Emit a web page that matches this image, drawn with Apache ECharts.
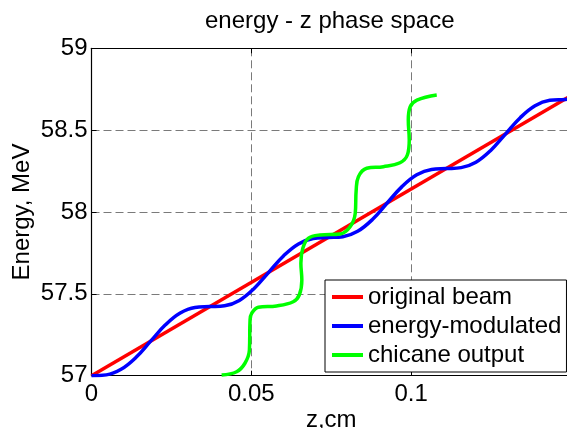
<!DOCTYPE html>
<html>
<head>
<meta charset="utf-8">
<script src="https://cdn.jsdelivr.net/npm/echarts@6/dist/echarts.min.js"></script>
<style>
html,body{margin:0;padding:0;background:#fff;}
#chart{width:567px;height:428px;}
</style>
</head>
<body>
<div id="chart"></div>
<script>
// ---- data ----
const redZ = [0, 0.149];
const redE = [57.0, 58.699];

const blueZ = [0, 0.004625, 0.00925, 0.013875, 0.0185, 0.023125, 0.02775, 0.032375, 0.037,
  0.041625, 0.04625, 0.050875, 0.0555, 0.060125, 0.06475, 0.069375, 0.074,
  0.078625, 0.08325, 0.087875, 0.0925, 0.097125, 0.10175, 0.106375, 0.111,
  0.115625, 0.12025, 0.124875, 0.1295, 0.134125, 0.13875, 0.143375, 0.148, 0.149];
const blueE = [57.000, 57.005, 57.039, 57.111, 57.211, 57.311, 57.383, 57.417, 57.422,
  57.427, 57.460, 57.533, 57.633, 57.733, 57.805, 57.838, 57.844,
  57.849, 57.882, 57.954, 58.055, 58.155, 58.227, 58.260, 58.265,
  58.271, 58.304, 58.376, 58.476, 58.576, 58.649, 58.682, 58.687, 58.690];

const greenZ = [0.0407, 0.0454, 0.0480, 0.0494, 0.0496, 0.0501, 0.0522, 0.0579, 0.0631,
  0.0650, 0.0658, 0.0655, 0.0661, 0.0678, 0.0715, 0.0778, 0.0809, 0.0825, 0.0828,
  0.0835, 0.0861, 0.0913, 0.0965, 0.0988, 0.0994, 0.0991, 0.0997, 0.1018, 0.1080];
const greenE = [57.004, 57.024, 57.076, 57.157, 57.340, 57.381, 57.418, 57.426, 57.452,
  57.493, 57.585, 57.687, 57.778, 57.839, 57.860, 57.866, 57.910, 57.992, 58.134,
  58.216, 58.267, 58.277, 58.301, 58.348, 58.440, 58.562, 58.643, 58.684, 58.715];

const seriesNames = ['original beam', 'energy-modulated', 'chicane output'];
const seriesColors = ['#ff0000', '#0000ff', '#00ff00'];
const xTickStep = 0.05;
const yTickStep = 0.5;

function pairs(xs, ys) { return xs.map((x, i) => [x, ys[i]]); }

const font = 'Liberation Sans, Arial, Helvetica, sans-serif';
const chart = echarts.init(document.getElementById('chart'));
const gridDash = { color: '#7a7a7a', width: 1, type: [8, 4] };

chart.setOption({
  animation: false,
  backgroundColor: '#fff',
  textStyle: { fontFamily: font },
  title: {
    text: 'energy - z phase space',
    left: 205, top: 9, padding: 0,
    textStyle: { fontSize: 24, fontWeight: 'normal', color: '#000', fontFamily: font }
  },
  grid: { left: 91.5, top: 48.3, right: -4, bottom: 52.3, containLabel: false, outerBoundsMode: 'none' },
  legend: {
    orient: 'vertical',
    left: 325, top: 280,
    padding: [5, 5, 5, 7],
    itemGap: 5,
    itemWidth: 31, itemHeight: 4,
    icon: 'rect',
    backgroundColor: '#fff',
    borderColor: '#000', borderWidth: 1,
    textStyle: { fontSize: 24, lineHeight: 24, color: '#000', fontFamily: font },
    data: seriesNames
  },
  xAxis: [{
    type: 'value', min: 0, max: 0.15, interval: xTickStep,
    name: 'z,cm', nameLocation: 'middle', nameGap: 33, nameMoveOverlap: false,
    nameTextStyle: { fontSize: 24, color: '#000', fontFamily: font },
    axisLine: { lineStyle: { color: '#000', width: 1.2 } },
    axisTick: { inside: true, length: 5, lineStyle: { color: '#000' } },
    axisLabel: { fontSize: 24, color: '#000', margin: 7, fontFamily: font, showMaxLabel: false },
    splitLine: { show: true, lineStyle: gridDash }
  }, {
    type: 'value', min: 0, max: 0.15, interval: xTickStep, position: 'top',
    axisLine: { show: true, lineStyle: { color: '#000', width: 1.2 } },
    axisTick: { show: true, inside: true, length: 5, lineStyle: { color: '#000' } },
    axisLabel: { show: false },
    splitLine: { show: false }
  }],
  yAxis: {
    type: 'value', min: 57, max: 59, interval: yTickStep,
    name: 'Energy, MeV', nameLocation: 'middle', nameGap: 57, nameMoveOverlap: false,
    nameTextStyle: { fontSize: 24, color: '#000', fontFamily: font },
    axisLine: { show: true, lineStyle: { color: '#000', width: 1.2 } },
    axisTick: { show: true, inside: true, length: 5, lineStyle: { color: '#000' } },
    axisLabel: { fontSize: 24, color: '#000', margin: 4, fontFamily: font },
    splitLine: { show: true, lineStyle: gridDash }
  },
  series: [
    { name: seriesNames[0], type: 'line', data: pairs(redZ, redE), symbol: 'none',
      lineStyle: { color: seriesColors[0], width: 3.5 }, itemStyle: { color: seriesColors[0] } },
    { name: seriesNames[1], type: 'line', data: pairs(blueZ, blueE), symbol: 'none', smooth: 0.4,
      lineStyle: { color: seriesColors[1], width: 3.5 }, itemStyle: { color: seriesColors[1] } },
    { name: seriesNames[2], type: 'line', data: pairs(greenZ, greenE), symbol: 'none', smooth: 0.4,
      lineStyle: { color: seriesColors[2], width: 3.5 }, itemStyle: { color: seriesColors[2] } }
  ]
});
</script>
</body>
</html>
